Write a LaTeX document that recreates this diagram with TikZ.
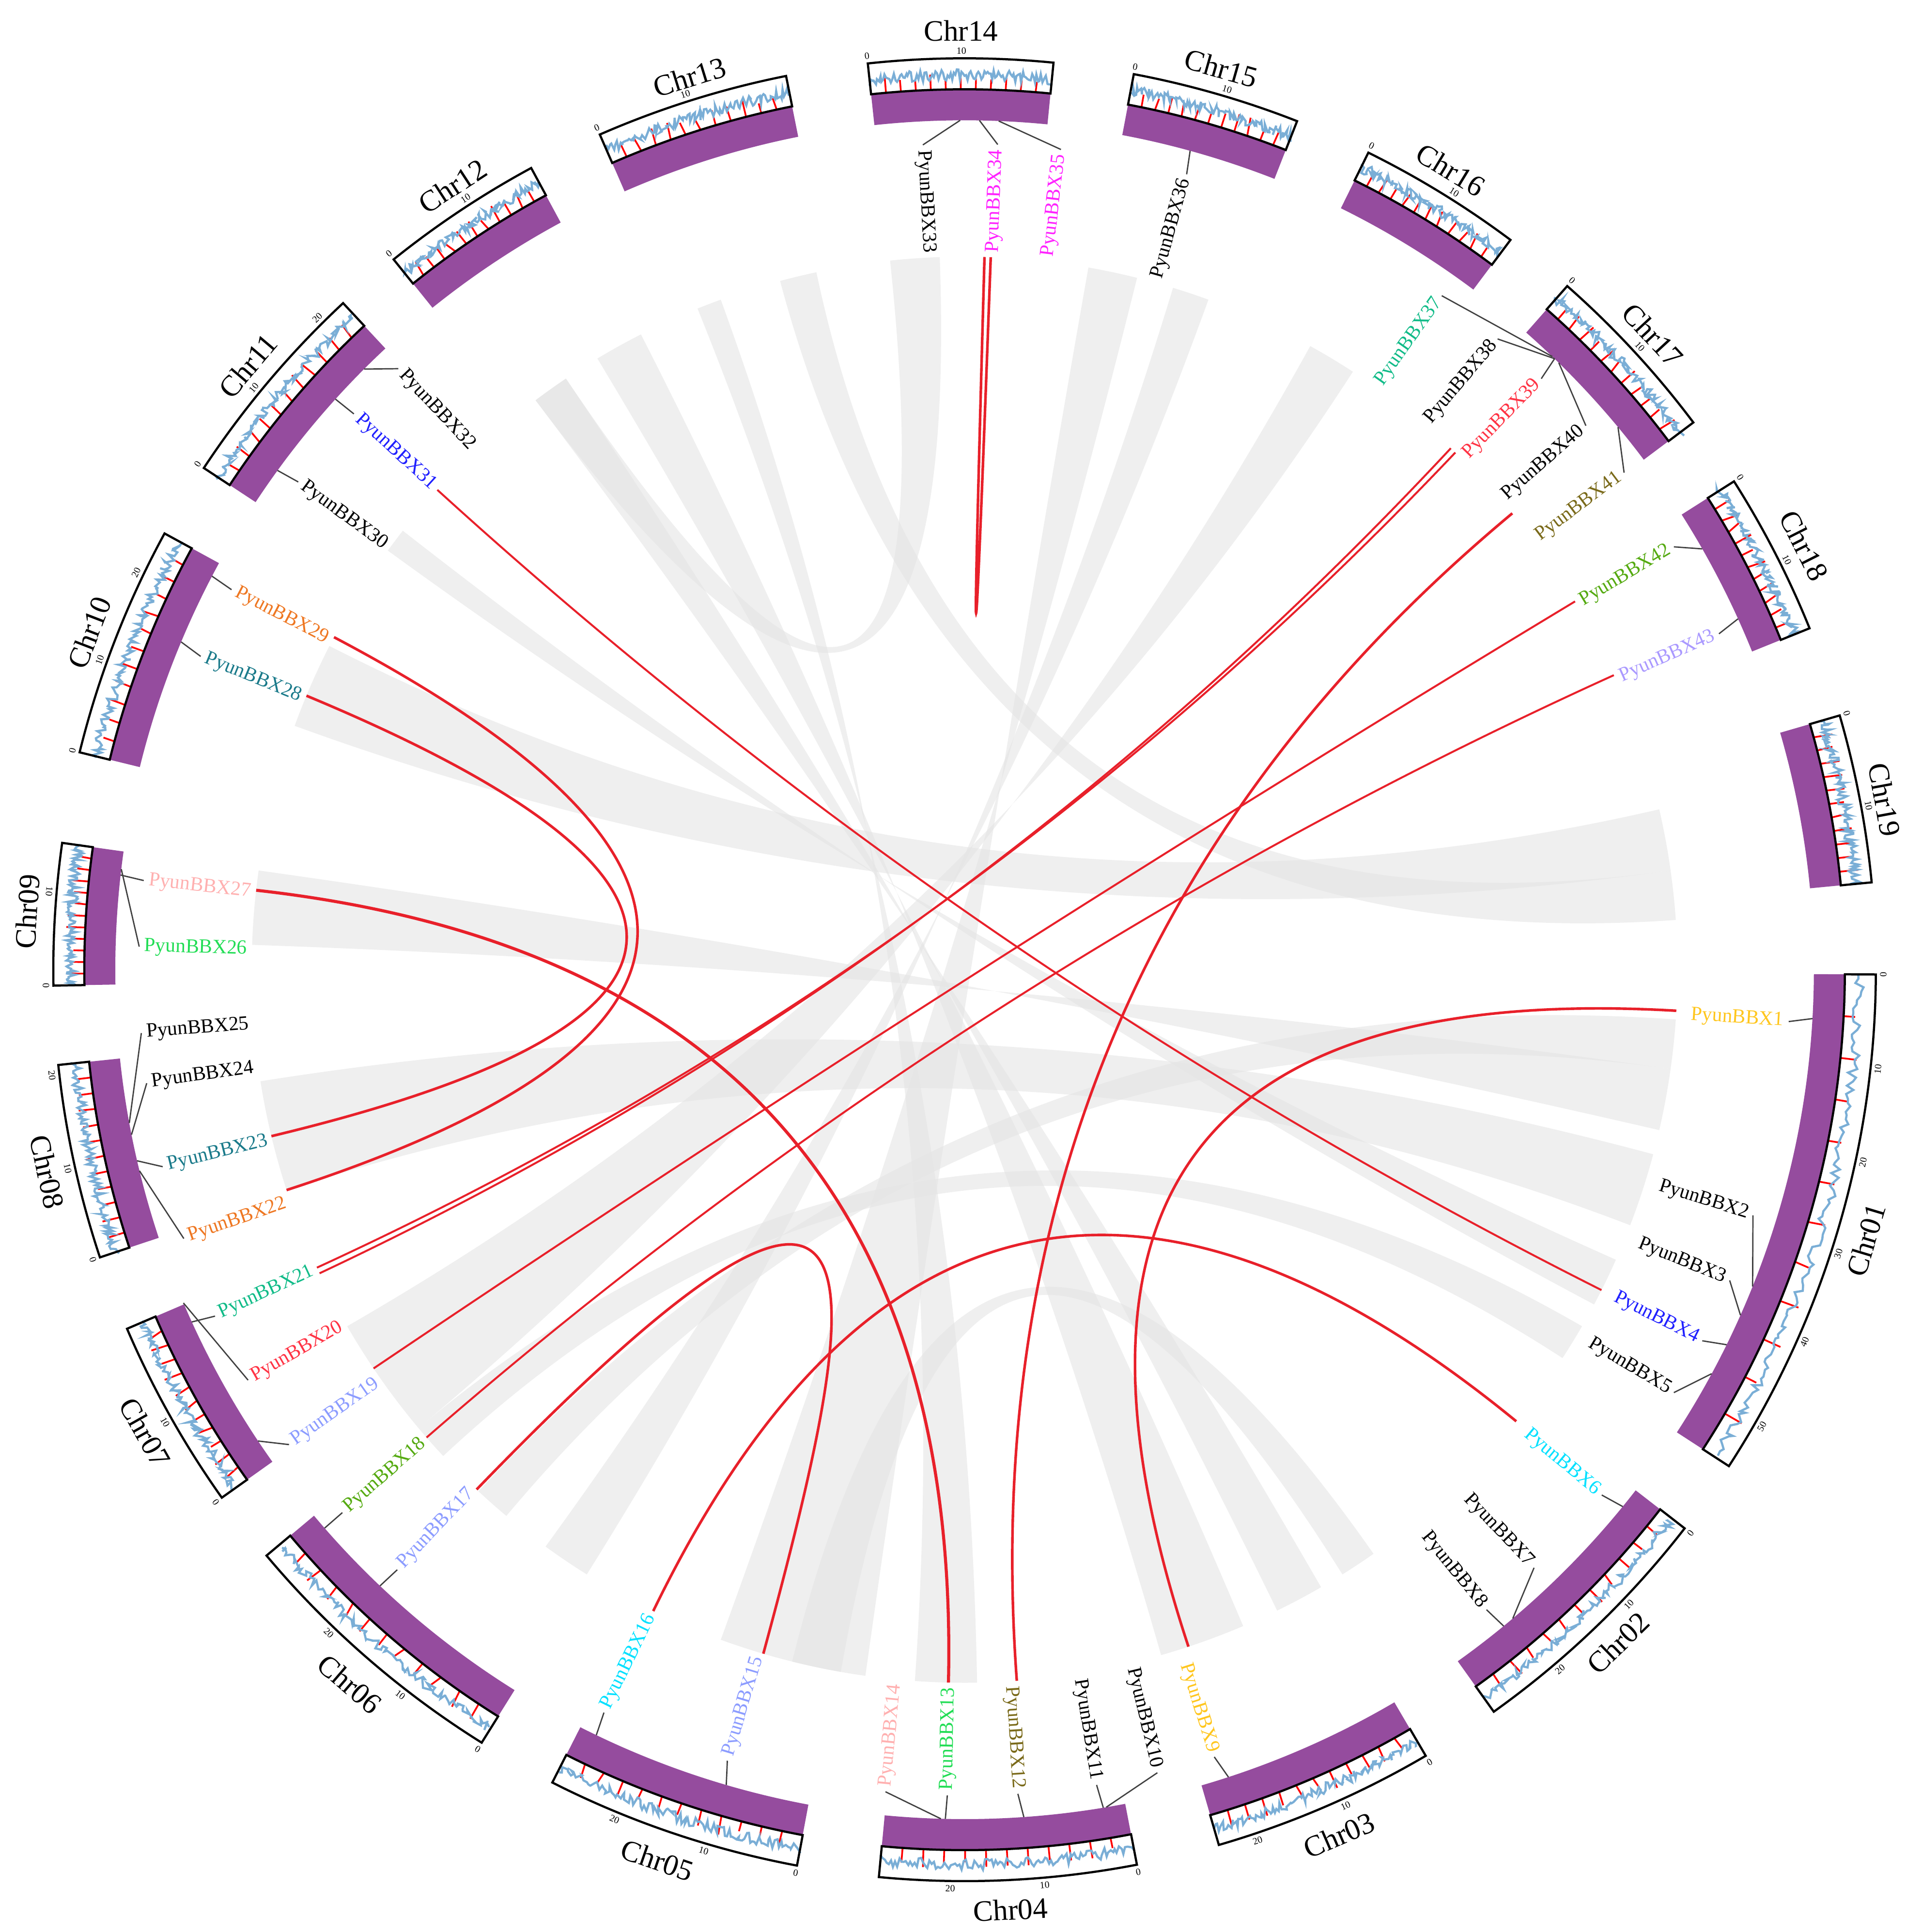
\documentclass[tikz,border=0pt]{standalone}
\usepackage{fontspec}
\setmainfont{Liberation Serif}
\definecolor{band}{HTML}{954C9E}
\definecolor{wig}{HTML}{7AAED6}
\definecolor{rib}{HTML}{E4E4E4}
\definecolor{lnk}{HTML}{E8202A}
\definecolor{cgold}{HTML}{FFC61E}
\definecolor{cblue}{HTML}{2020FF}
\definecolor{ccyan}{HTML}{00E0FF}
\definecolor{colive}{HTML}{7A6A1A}
\definecolor{cgreen}{HTML}{22DD55}
\definecolor{cpink}{HTML}{FFB0B0}
\definecolor{clav}{HTML}{8C9CFF}
\definecolor{cgrn}{HTML}{55AA11}
\definecolor{cred}{HTML}{FF3344}
\definecolor{cteal}{HTML}{11BB88}
\definecolor{corange}{HTML}{EE7722}
\definecolor{cdteal}{HTML}{1A7A8A}
\definecolor{cmag}{HTML}{FF22FF}
\definecolor{clav2}{HTML}{AA99FF}
\tikzset{
  glab/.style={inner sep=1pt,font=\fontsize{4.6}{5}\selectfont},
  lead/.style={draw=black!75,line width=0.3pt},
  chlab/.style={inner sep=0pt,font=\fontsize{6.8}{8}\selectfont},
  ticklab/.style={inner sep=0pt,font=\fontsize{2.2}{2.5}\selectfont},
  redlink/.style={draw=lnk,line width=0.45pt},
  ribbon/.style={fill=rib,fill opacity=0.6,draw=none}
}
\newcommand\glabR[4]{%
  \coordinate (c#4) at (#2:685);
  \node[glab,text=#3,rotate=#1,anchor=east] (g#4) at (#1:666) {#4};
  \draw[lead] (c#4) -- (g#4.east);}
\newcommand\glabL[4]{%
  \coordinate (c#4) at (#2:685);
  \node[glab,text=#3,rotate=#1+180,anchor=west] (g#4) at (#1:666) {#4};
  \draw[lead] (c#4) -- (g#4.west);}
\newcommand\chrom[6]{%
  \fill[band] (#1:685) arc[start angle=#1,end angle=#2,radius=685] -- (#2:710) arc[start angle=#2,end angle=#1,radius=710] -- cycle;
  \foreach \k in {1,...,11}{\draw[red,line width=0.4pt] ({#1+(#2-#1)*\k/12}:710) -- ({#1+(#2-#1)*\k/12}:{718+8*rnd});}
  \draw[wig,line width=0.5pt] plot[domain=#1:#2,samples=120] (\x:{717+9*rnd});
  \draw[line width=0.5pt] (#1:710) arc[start angle=#1,end angle=#2,radius=710] -- (#2:735) arc[start angle=#2,end angle=#1,radius=735] -- cycle;
  \foreach \m in {0,10,...,#3}{\node[ticklab,rotate={(#1-0.59*\m>0)?(#1-0.59*\m-90):(#1-0.59*\m+90)}] at ({#1-0.59*\m}:741) {\m};}
  \node[chlab,rotate=#6] (#4) at #5 {#4};}
\newcommand\ribb[4]{%
  \path[ribbon] (#1:575) arc[start angle=#1,end angle=#2,radius=575] .. controls (#2:192) and (#3:192) .. (#3:575) arc[start angle=#3,end angle=#4,radius=575] .. controls (#4:192) and (#1:192) .. (#1:575) -- cycle;}
\newcommand\rlink[3][]{%
  \draw[redlink,#1] (#2:575) .. controls (#2:192) and (#3:192) .. (#3:575);}
\begin{document}
\begin{tikzpicture}[x=0.01cm,y=0.01cm]
\pgfmathsetseed{7}
\useasboundingbox (-778,-776) rectangle (772,782);
% gray ribbons
\ribb{172}{178}{-8}{-13}
\ribb{153}{160}{8}{13}
\ribb{-162}{-171}{-15}{-21}
\ribb{124}{127}{-60}{-64}
\ribb{117}{121}{-67}{-74}
\ribb{110}{112}{-89}{-94}
\ribb{102}{105}{4}{8}
\ribb{92}{96}{124}{127}
\ribb{76}{80}{-98}{-110}
\ribb{70}{73}{-122}{-126}
\ribb{57}{61}{-140}{-150}
\ribb{-130}{-133}{-4}{-8}
\ribb{142}{144}{-24}{-28}
\ribb{-137}{-140}{-30}{-33}
\ribb{-100}{-104}{-55}{-58}
% red links
\rlink[line width=0.6pt]{87.9}{88.4}
\rlink{137.7}{-26.7}
\rlink[line width=0.6pt]{152.2}{-162}
\rlink[line width=0.6pt]{157.4}{-166.5}
\rlink[line width=0.7pt]{173.6}{-91.3}
\rlink{-155.3}{46.5}
\rlink{-154.8}{47.0}
\rlink{-146}{31.1}
\rlink{-139}{24.4}
\draw[redlink,line width=0.6pt] (-133.2:575) .. controls (-128:80) and (-108:250) .. (-106.4:575);
\rlink[line width=0.6pt]{-115.9}{-39.3}
\rlink[line width=0.6pt]{-85.8}{39.8}
\rlink[line width=0.6pt]{-71.7}{-3.3}
% chromosomes
\chrom{-0.3}{-33}{50}{Chr01}{(727,-218)}{73.3}
\chrom{-37.8}{-54.5}{20}{Chr02}{(527,-543)}{44.1}
\chrom{-59.6}{-73.8}{20}{Chr03}{(302,-698)}{23.4}
\chrom{-79.1}{-95.4}{20}{Chr04}{(37,-758)}{3}
\chrom{-100.6}{-116.9}{20}{Chr05}{(-248,-718)}{-19}
\chrom{-122}{-140}{20}{Chr06}{(-496,-576)}{-40.7}
\chrom{-144.6}{-156.8}{10}{Chr07}{(-661,-373)}{-60.6}
\chrom{-161.6}{-174}{20}{Chr08}{(-740,-163)}{-77.6}
\chrom{-179}{-188}{10}{Chr09}{(-756,47)}{86.4}
\chrom{166.2}{151.4}{20}{Chr10}{(-706,272)}{69}
\chrom{146.6}{133}{20}{Chr11}{(-578,487)}{49.9}
\chrom{128.8}{118.4}{10}{Chr12}{(-413,632)}{33.2}
\chrom{113.6}{101.3}{10}{Chr13}{(-222,720)}{17.1}
\chrom{96.1}{84.4}{10}{Chr14}{(-3,757)}{0}
\chrom{79.3}{68.6}{10}{Chr15}{(207,727)}{-15.9}
\chrom{63.7}{53.2}{10}{Chr16}{(392,645)}{-31.3}
\chrom{48.6}{36.9}{10}{Chr17}{(555,512)}{-47.3}
\chrom{32.4}{22}{10}{Chr18}{(677,342)}{-63.2}
\chrom{16.2}{5.5}{10}{Chr19}{(742,137)}{-79.5}
% gene labels
\glabR{-3.6}{-3.3}{cgold}{PyunBBX1}
\glabR{-17.3}{-21.9}{black}{PyunBBX2}
\glabR{-22.1}{-24}{black}{PyunBBX3}
\glabR{-26.7}{-26.2}{cblue}{PyunBBX4}
\glabR{-30.8}{-28.4}{black}{PyunBBX5}
\glabR{-39.5}{-39.2}{ccyan}{PyunBBX6}
\glabR{-46.4}{-49.8}{black}{PyunBBX7}
\glabR{-50.8}{-50.6}{black}{PyunBBX8}
\glabR{-72.4}{-71.9}{cgold}{PyunBBX9}
\glabR{-76.5}{-80.4}{black}{PyunBBX10}
\glabR{-80.8}{-80.6}{black}{PyunBBX11}
\glabR{-86.3}{-86}{colive}{PyunBBX12}
\glabL{-91.2}{-91.3}{cgreen}{PyunBBX13}
\glabL{-95.5}{-91.6}{cpink}{PyunBBX14}
\glabL{-106.7}{-106.3}{clav}{PyunBBX15}
\glabL{-115.9}{-115.7}{ccyan}{PyunBBX16}
\glabL{-133.4}{-133.5}{clav}{PyunBBX17}
\glabL{-138.9}{-138.9}{cgrn}{PyunBBX18}
\glabL{-144.9}{-146.3}{clav}{PyunBBX19}
\glabL{-150.2}{-156.9}{cred}{PyunBBX20}
\glabL{-155.2}{-155.5}{cteal}{PyunBBX21}
\glabL{-161}{-166.3}{corange}{PyunBBX22}
\glabL{-166.2}{-167}{cdteal}{PyunBBX23}
\glabL{-172.1}{-168.8}{black}{PyunBBX24}
\glabL{-175.6}{-169.6}{black}{PyunBBX25}
\glabL{178.4}{173.2}{cgreen}{PyunBBX26}
\glabL{173.8}{173.6}{cpink}{PyunBBX27}
\glabL{157.7}{157.3}{cdteal}{PyunBBX28}
\glabL{152.6}{152.4}{corange}{PyunBBX29}
\glabL{143.8}{144}{black}{PyunBBX30}
\glabL{137.7}{137.8}{cblue}{PyunBBX31}
\glabL{133.3}{135}{black}{PyunBBX32}
\glabL{92.9}{90.3}{black}{PyunBBX33}
\glabR{87.7}{89}{cmag}{PyunBBX34}
\glabR{83.3}{87.7}{cmag}{PyunBBX35}
\glabR{74.4}{74.6}{black}{PyunBBX36}
\glabR{54.7}{46.2}{cteal}{PyunBBX37}
\glabR{49.8}{46}{black}{PyunBBX38}
\glabR{45.7}{46}{cred}{PyunBBX39}
\glabR{41.2}{45.6}{black}{PyunBBX40}
\glabR{37}{39.7}{colive}{PyunBBX41}
\glabR{30.8}{29.7}{cgrn}{PyunBBX42}
\glabR{24}{24.4}{clav2}{PyunBBX43}
\end{tikzpicture}
\end{document}
